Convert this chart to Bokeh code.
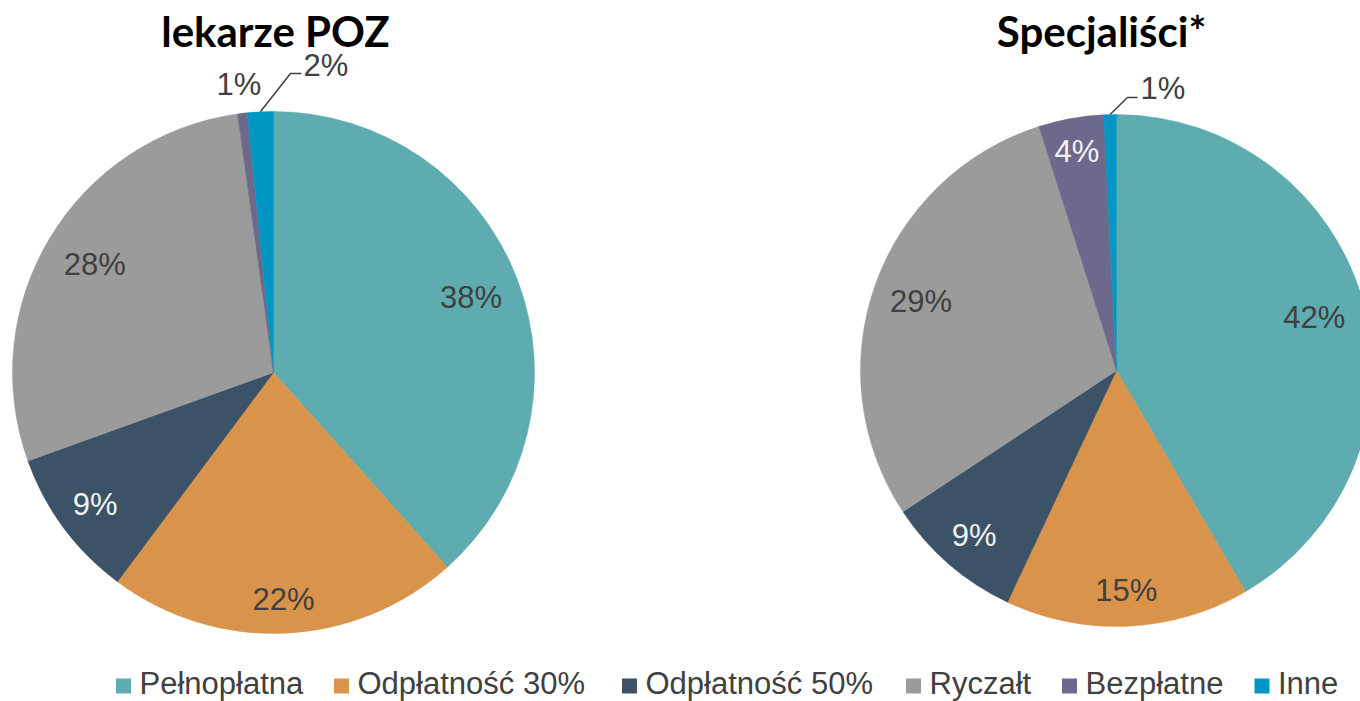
import math
from bokeh.plotting import figure
from bokeh.models import ColumnDataSource, Range1d
from bokeh.core.properties import value
from bokeh.embed import file_html
from bokeh.resources import INLINE

# ---------------- data ----------------
categories = ["Pełnopłatna", "Odpłatność 30%", "Odpłatność 50%", "Ryczałt", "Bezpłatne", "Inne"]
poz_values = [38.4, 21.8, 9.3, 28.3, 0.6, 1.6]
spec_values = [41.6, 15.4, 8.7, 29.4, 4.1, 0.8]
titles = ["lekarze POZ", "Specjaliści*"]
colors = ["#5EACAF", "#D9934A", "#3C5267", "#9B9B9B", "#6D698C", "#0096C3"]

# ---------------- layout (reference pixel coordinates) ----------------
W, H = 1360, 701
def Y(y):  # page y (downward) -> data y (upward)
    return H - y

pies = [
    dict(values=poz_values, title=titles[0], cx=273, cy=372, r=261, title_x=275,
         fr=[0.81, 0.87, 0.85, 0.80, 1.11, None],
         leader={5: dict(elbow=(290, 73), end=(301, 73), text=(303, 65))}),
    dict(values=spec_values, title=titles[1], cx=1116, cy=370, r=256, title_x=1101,
         fr=[0.80, 0.86, 0.85, 0.81, 0.87, None],
         leader={5: dict(elbow=(1127, 97), end=(1137, 97), text=(1140, 88))}),
]
light = {2, 4}
legend_x = [123, 341, 629, 913, 1069, 1261.5]
legend_y = 685.5
legend_text_y = 683

p = figure(width=W, height=H, x_range=Range1d(0, W), y_range=Range1d(0, H),
           output_backend="svg", toolbar_location=None, min_border=0,
           x_axis_type=None, y_axis_type=None)
p.grid.visible = False
p.outline_line_color = None
p.background_fill_color = "white"
p.border_fill_color = "white"

label_font = value("Liberation Sans")

for pie in pies:
    vals = pie["values"]
    total = sum(vals)
    cum = 0.0
    starts, ends = [], []
    lx, ly, ltxt, lcol = [], [], [], []
    for i, v in enumerate(vals):
        a0 = cum / total
        a1 = (cum + v) / total
        cum += v
        starts.append(math.pi / 2 - 2 * math.pi * a0)
        ends.append(math.pi / 2 - 2 * math.pi * a1)
        mid = (a0 + a1) / 2 * 2 * math.pi  # clockwise from top
        txt = f"{round(v / total * 100)}%"
        if pie["fr"][i] is not None:
            d = pie["fr"][i] * pie["r"]
            x = pie["cx"] + d * math.sin(mid)
            y = pie["cy"] - d * math.cos(mid)
            lx.append(x)
            ly.append(Y(y))
            ltxt.append(txt)
            lcol.append("#F2F2F2" if (i in light and pie["fr"][i] < 1) else "#404040")
        else:
            ld = pie["leader"][i]
            ex = pie["cx"] + pie["r"] * math.sin(mid)
            ey = pie["cy"] - pie["r"] * math.cos(mid)
            p.line([ex, ld["elbow"][0], ld["end"][0]],
                   [Y(ey), Y(ld["elbow"][1]), Y(ld["end"][1])],
                   line_color="#404040", line_width=1.5)
            p.text(x=[ld["text"][0]], y=[Y(ld["text"][1])], text=[txt],
                   text_font=label_font, text_font_size="31px", text_color="#404040",
                   text_align="left", text_baseline="middle")
    src = ColumnDataSource(dict(start=starts, end=ends, color=colors,
                                cat=categories, val=vals))
    p.wedge(x=pie["cx"], y=Y(pie["cy"]), radius=pie["r"], start_angle="start",
            end_angle="end", direction="clock", fill_color="color",
            line_color="color", line_width=0.5, source=src)
    p.text(x=lx, y=ly, text=ltxt, text_color=lcol, text_font=label_font,
           text_font_size="31px", text_align="center", text_baseline="middle")
    p.text(x=[pie["title_x"]], y=[Y(30)], text=[pie["title"]], text_font=value("Lato"),
           text_font_style="bold", text_font_size="42px", text_color="#000000",
           text_align="center", text_baseline="middle")

# legend
p.rect(x=legend_x, y=[Y(legend_y)] * len(legend_x), width=15, height=15,
       fill_color=colors, line_color=None)
p.text(x=[x + 16 for x in legend_x], y=[Y(legend_text_y)] * len(legend_x), text=categories,
       text_font=label_font, text_font_size="31px", text_color="#404040",
       text_align="left", text_baseline="middle")

open("out.html", "w").write(file_html(p, INLINE))
